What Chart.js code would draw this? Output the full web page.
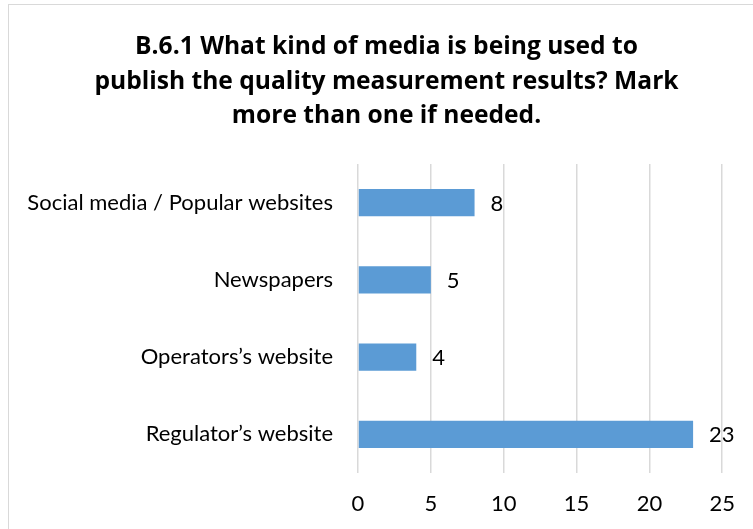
<!DOCTYPE html>
<html>
<head>
<meta charset="utf-8">
<script src="https://cdn.jsdelivr.net/npm/chart.js@4.4.1/dist/chart.umd.min.js"></script>
<style>
  html, body { margin: 0; padding: 0; background: #fff; }
  #wrap { position: relative; width: 753px; height: 529px; overflow: hidden; }
  #frame { position: absolute; left: 8px; top: 4px; width: 800px; height: 600px;
           border: 1px solid #d9d9d9; box-sizing: border-box; pointer-events: none; }
  canvas { position: absolute; left: 0; top: 0; }
</style>
</head>
<body>
<div id="wrap">
  <canvas id="c" width="753" height="529"></canvas>
  <div id="frame"></div>
</div>
<script>
const titleLines = [
  'B.6.1 What kind of media is being used to',
  'publish the quality measurement results? Mark',
  'more than one if needed.'
];
const categories = [
  'Social media / Popular websites',
  'Newspapers',
  'Operators\u2019s website',
  'Regulator\u2019s website'
];
const counts = [8, 5, 4, 23];
const xTicks = [0, 5, 10, 15, 20, 25];

const FONT = 'Lato, sans-serif';
const TITLE_FONT = 'bold 24.6px "Open Sans", sans-serif';

// Centred three-line heading above the plot
const heading = {
  id: 'heading',
  afterDraw(chart) {
    const ctx = chart.ctx;
    ctx.save();
    ctx.font = TITLE_FONT;
    ctx.fillStyle = '#000';
    ctx.textAlign = 'center';
    ctx.textBaseline = 'middle';
    const cx = chart.width / 2 + 10;
    titleLines.forEach((line, i) => {
      ctx.fillText(line, cx, 47 + i * 34.5);
    });
    ctx.restore();
  }
};

// Writes each bar's value just past its end
const valueLabels = {
  id: 'valueLabels',
  afterDatasetsDraw(chart) {
    const ctx = chart.ctx;
    const meta = chart.getDatasetMeta(0);
    ctx.save();
    ctx.font = '22px ' + FONT;
    ctx.fillStyle = '#000';
    ctx.textAlign = 'left';
    ctx.textBaseline = 'middle';
    meta.data.forEach((bar, i) => {
      ctx.fillText(String(counts[i]), bar.x + 16, bar.y + 1);
    });
    ctx.restore();
  }
};

new Chart(document.getElementById('c'), {
  type: 'bar',
  data: {
    labels: categories,
    datasets: [{
      data: counts,
      backgroundColor: '#5b9bd5',
      borderWidth: 0,
      barPercentage: 0.7,
      categoryPercentage: 0.5
    }]
  },
  options: {
    indexAxis: 'y',
    responsive: false,
    animation: false,
    layout: { padding: { left: 0, right: 30, top: 164, bottom: 0 } },
    plugins: {
      legend: { display: false },
      tooltip: { enabled: false },
      title: { display: false }
    },
    scales: {
      x: {
        min: 0,
        max: 25,
        afterBuildTicks(scale) { scale.ticks = xTicks.map(v => ({ value: v })); },
        afterFit(scale) { scale.height = 56; },
        grid: { color: '#d9d9d9', lineWidth: 1.5, drawTicks: false },
        border: { display: false },
        ticks: { color: '#000', padding: 18, font: { family: FONT, size: 22 } }
      },
      y: {
        afterFit(scale) { scale.width = 358; },
        grid: { display: false },
        border: { display: false },
        ticks: { color: '#000', padding: 17, font: { family: FONT, size: 22 } }
      }
    }
  },
  plugins: [valueLabels, heading]
});
</script>
</body>
</html>
